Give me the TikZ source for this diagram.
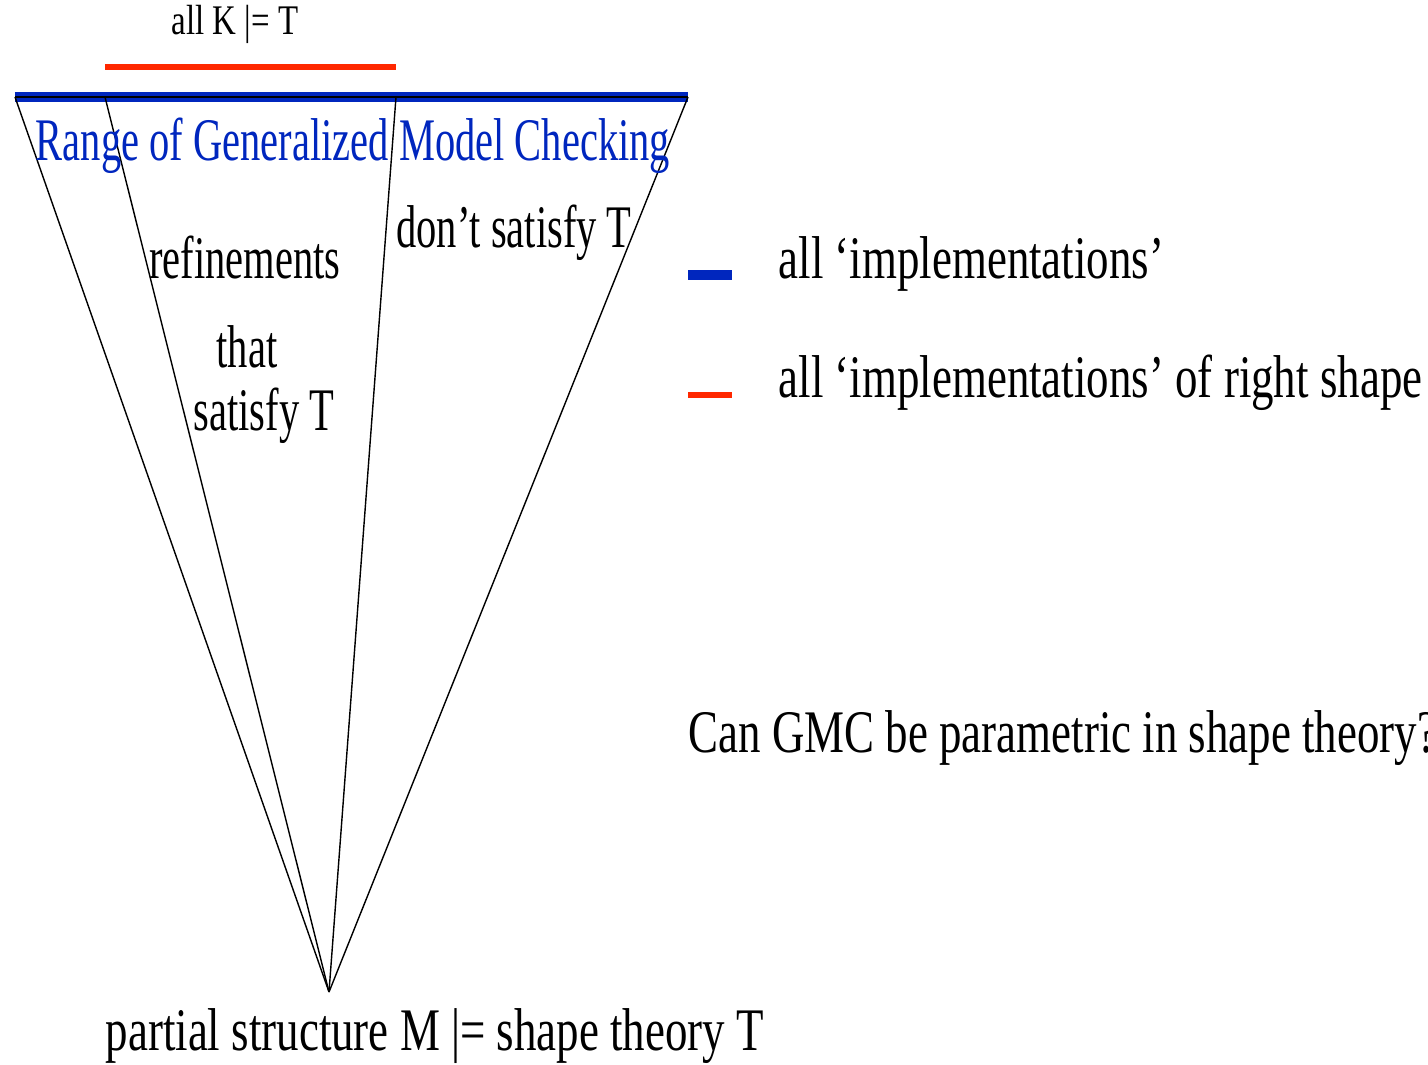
\documentclass[tikz,border=0pt]{standalone}
\usepackage{fontspec}
\setmainfont{Liberation Serif}[FakeStretch=0.7]
\newfontfamily\conefont{Liberation Serif}[FakeStretch=0.67]
\newfontfamily\outfont{Liberation Serif}[FakeStretch=0.743]
\newfontfamily\topfont{Liberation Serif}[FakeStretch=0.78]
\definecolor{gmcblue}{RGB}{0,38,190}
\definecolor{gmcred}{RGB}{255,40,0}
\begin{document}
\begin{tikzpicture}[big/.style={font=\conefont\fontsize{17.2}{20}\selectfont, inner sep=0pt, anchor=base},
    outtext/.style={font=\outfont\fontsize{17.2}{20}\selectfont, inner sep=0pt, anchor=base west},
    small/.style={font=\topfont\fontsize{12}{14}\selectfont, inner sep=0pt}]
\useasboundingbox (0,0) rectangle (14.28,10.64);
% the cone
\coordinate (apex) at (3.29,.72);
\coordinate (t1) at (.15,9.67);
\coordinate (t2) at (1.05,9.67);
\coordinate (t3) at (3.96,9.67);
\coordinate (t4) at (6.88,9.67);
\draw[gmcblue, line width=2.7pt] (t1)--(t4);
\draw[line width=.5pt] (t1)--(t4);
\draw[thin] (apex)--(t1);
\draw[thin] (apex)--(t2);
\draw[thin] (apex)--(t3);
\draw[thin] (apex)--(t4);
\coordinate (r1) at (1.05,9.97);
\coordinate (r2) at (3.96,9.97);
\draw[gmcred, line width=1.6pt] (r1)--(r2);
\node (allK) at (2.35,10.40) [small]{all K |= T};
\node (range) at (3.53,9.04) [big, text=gmcblue]{Range of Generalized Model Checking};
\node (refine) at (2.45,7.86) [big]{refinements};
\node (that) at (2.47,6.97) [big]{that};
\node (sat) at (2.64,6.34) [big]{satisfy T};
\node (notsat) at (5.14,8.17) [big]{don’t satisfy T};
\node (partial) at (1.05,.14) [outtext]{partial structure M |= shape theory T};
% legend
\coordinate (b1) at (6.88,7.89);
\coordinate (b2) at (7.32,7.89);
\draw[gmcblue, line width=2.7pt] (b1)--(b2);
\coordinate (c1) at (6.88,6.69);
\coordinate (c2) at (7.32,6.69);
\draw[gmcred, line width=1.6pt] (c1)--(c2);
\node (impl) at (7.78,7.86) [outtext]{all ‘implementations’};
\node (shape) at (7.78,6.67) [outtext]{all ‘implementations’ of right shape};
\node (gmc) at (6.88,3.12) [outtext]{Can GMC be parametric in shape theory?};
\end{tikzpicture}
\end{document}
